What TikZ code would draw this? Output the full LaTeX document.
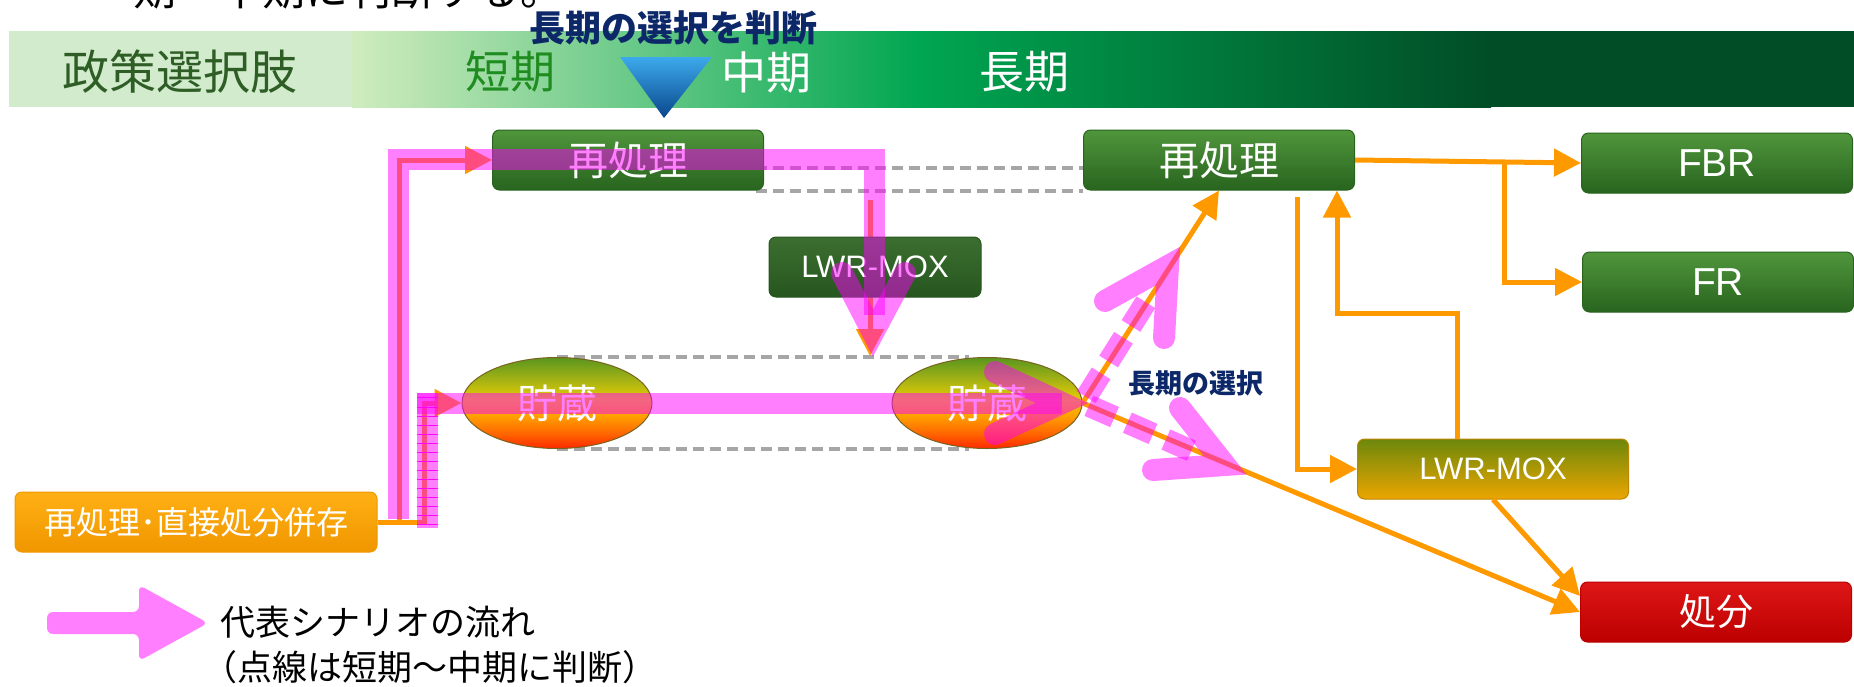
\documentclass[tikz,border=0pt]{standalone}
\usepackage{fontspec}
\newfontfamily\jpfont{Noto Sans CJK JP}
\newfontfamily\latinfont{Liberation Sans}
\usepackage{tikz}
\usetikzlibrary{shapes.geometric, arrows.meta, positioning, calc, patterns.meta}
\definecolor{bandlight}{RGB}{210,235,204}
\definecolor{bandpale}{RGB}{208,236,190}
\definecolor{bandmid}{RGB}{0,166,81}
\definecolor{banddark}{RGB}{1,77,38}
\definecolor{titlegreen}{RGB}{46,94,37}
\definecolor{shortgreen}{RGB}{30,140,30}
\definecolor{navy}{RGB}{12,40,104}
\definecolor{tritop}{RGB}{60,170,235}
\definecolor{tribot}{RGB}{10,70,140}
\definecolor{boxtop}{RGB}{80,150,60}
\definecolor{boxbot}{RGB}{40,100,30}
\definecolor{darktop}{RGB}{60,110,48}
\definecolor{darkbot}{RGB}{38,86,30}
\definecolor{moxtop}{RGB}{108,136,12}
\definecolor{moxbot}{RGB}{236,166,0}
\definecolor{combotop}{RGB}{255,176,20}
\definecolor{combobot}{RGB}{240,150,0}
\definecolor{redtop}{RGB}{222,22,22}
\definecolor{redbot}{RGB}{188,0,0}
\definecolor{potred}{RGB}{255,40,0}
\definecolor{potorange}{RGB}{255,100,0}
\definecolor{potamber}{RGB}{255,160,0}
\definecolor{potyellow}{RGB}{230,205,0}
\definecolor{potolive}{RGB}{170,180,20}
\definecolor{potgreen}{RGB}{90,150,30}
\definecolor{potedge}{RGB}{120,100,30}
\definecolor{flowc}{RGB}{255,153,0}
\definecolor{guidegray}{RGB}{166,166,166}
\definecolor{pinkc}{RGB}{255,0,255}
\pgfdeclareverticalshading{potshade}{100bp}{color(0bp)=(potred); color(25bp)=(potred); color(33bp)=(potorange); color(43bp)=(potamber); color(52bp)=(potyellow); color(62bp)=(potolive); color(75bp)=(potgreen); color(100bp)=(potgreen)}
\pgfdeclarelayer{bg}
\pgfsetlayers{bg,main}
\tikzset{
  boxbase/.style={rounded corners=7pt, minimum width=271pt, minimum height=60pt, inner sep=0, text=white, line width=1pt, font=\jpfont\fontsize{40pt}{48pt}\selectfont},
  greenbox/.style={boxbase, top color=boxtop, bottom color=boxbot, draw=boxbot},
  latin/.style={font=\latinfont\fontsize{39pt}{46pt}\selectfont},
  darkbox/.style={boxbase, minimum width=212pt, top color=darktop, bottom color=darkbot, draw=darkbot, font=\latinfont\fontsize{31pt}{36pt}\selectfont},
  moxbox/.style={boxbase, top color=moxtop, bottom color=moxbot, draw=moxbot!80!black, font=\latinfont\fontsize{31pt}{36pt}\selectfont},
  combobox/.style={boxbase, minimum width=362pt, top color=combotop, bottom color=combobot, draw=combobot, font=\jpfont\fontsize{32pt}{38pt}\selectfont},
  redbox/.style={boxbase, top color=redtop, bottom color=redbot, draw=redbot, font=\jpfont\fontsize{37pt}{44pt}\selectfont},
  pot/.style={ellipse, minimum width=190pt, minimum height=91pt, inner sep=0, shading=potshade, draw=potedge, line width=1pt, text=white, font=\jpfont\fontsize{40pt}{48pt}\selectfont},
  headtext/.style={inner sep=0, text=white, font=\jpfont\fontsize{45pt}{54pt}\selectfont},
  decide/.style={inner sep=0, text=navy, font=\jpfont\bfseries\fontsize{36pt}{42pt}\selectfont},
  legendtext/.style={anchor=west, inner sep=0, text=black, font=\jpfont\fontsize{35pt}{42pt}\selectfont},
  flow/.style={draw=flowc, line width=5pt, -{Triangle[length=27pt,width=27pt]}},
  guide/.style={draw=guidegray, line width=4pt, dash pattern=on 11pt off 6pt},
  pinkband/.style={draw=pinkc, draw opacity=0.5, line width=21pt},
  pinkhead/.style={draw=pinkc, draw opacity=0.5, line width=22pt, line cap=round, line join=miter},
  pinkdash/.style={draw=pinkc, draw opacity=0.5, line width=22pt, dash pattern=on 28pt off 14pt, dash phase=35pt},
  pinkfill/.style={fill=pinkc, fill opacity=0.5}
}

\begin{document}
\begin{tikzpicture}[x=1pt, y=-1pt]
  \useasboundingbox (0,0) rectangle (1854,686);

  % line of text cut off by the top edge
  \node[anchor=base west, inner sep=0, font=\jpfont\fontsize{43pt}{50pt}\selectfont] (cuthead) at (133,5) {期～中期に判断する。};

  % time band
  \fill[bandlight] (9,31) rectangle (352,107);
  \shade[left color=bandpale, right color=bandmid] (352,31) rectangle (921,107);
  \shade[left color=bandmid, right color=banddark] (920,31) rectangle (1491,107);
  \fill[banddark] (1490,31) rectangle (1854,107);
  \node[headtext, text=titlegreen, font=\jpfont\fontsize{47pt}{56pt}\selectfont] (policy) at (180,72) {政策選択肢};
  \node[headtext, text=shortgreen] (shortterm) at (510,72) {短期};
  \node[headtext] (midterm) at (766,72) {中期};
  \node[headtext] (longterm) at (1024,72) {長期};
  \shade[top color=tritop, bottom color=tribot] (620,57) -- (712,57) -- (664,118) -- cycle;
  \node[decide] (judge) at (673,28) {長期の選択を判断};

  % options
  \coordinate (dropTop) at (870,200);
  \coordinate (dropEnd) at (870,356);
  \node[greenbox] (repL) at (628,160) {再処理};
  \node[darkbox] (moxM) at (875,267) {LWR-MOX};
  \node[pot] (stoL) at (557,403) {貯蔵};
  \node[pot] (stoR) at (987,403) {貯蔵};
  \node[combobox] (combo) at (196,522) {再処理･直接処分併存};
  \node[greenbox] (repR) at (1219,160) {再処理};
  \node[greenbox, latin] (fbr) at (1717,163) {FBR};
  \node[greenbox, latin] (fr) at (1718,282) {FR};
  \node[moxbox] (moxR) at (1493,469) {LWR-MOX};
  \node[redbox] (disp) at (1716,612) {処分};

  \begin{pgfonlayer}{bg}
    \draw[guide] ($(repL.east)+(-8,8)$) -- ($(repR.west)+(0,8)$);
    \draw[guide] ($(repL.south east)+(-8,0)$) -- (repR.south west);
    \draw[guide] (stoL.north) -- ($(stoR.north)+(-18,0)$);
    \draw[guide] (stoL.south) -- ($(stoR.south)+(-18,0)$);
    \draw[flow] (dropTop) -- (dropEnd);
  \end{pgfonlayer}

  % flows
  \draw[flow] (combo.east) -- ++(22,0) |- (repL.west);
  \draw[flow] (combo.east) -- ++(47,0) |- (stoL.west);
  \draw[flow] (stoR.east) -- (repR.south);
  \draw[flow] (stoR.east) -- (disp.west);
  \draw[flow] (repR.east) -- (fbr.west);
  \draw[flow] ($(repR.east)!0.66!(fbr.west)$) |- (fr.west);
  \draw[flow] ($(repR.south east)+(-58,6)$) |- (moxR.west);
  \draw[flow] ($(moxR.north west)+(100,0)$) -- ++(0,-125) -| ($(repR.south east)+(-18,0)$);
  \draw[flow] (moxR.south) -- ($(disp.west)+(0,-16)$);

  % representative scenario
  \draw[pinkband] (398,519) -- (398,159) -- (874,159) -- (874,315);
  \draw[pinkhead] (842,273) -- (873,333) -- (905,273);
  \fill[pinkfill, postaction={pattern={Lines[angle=0,distance=9pt,line width=1pt]}, pattern color=pinkc}] (417,393) rectangle (438,528);
  \draw[pinkband] (417,403) -- (1062,403);
  \draw[pinkhead] (995,372) -- (1062,403) -- (995,434);
  \draw[pinkdash] (stoR.east) -- (1146,302);
  \draw[pinkhead] (1105,301) -- (1168,266) -- (1164,338);
  \draw[pinkdash] (stoR.east) -- (1192,451);
  \draw[pinkhead] (1180,408) -- (1225,465) -- (1153,470);
  \node[decide, font=\jpfont\bfseries\fontsize{27pt}{32pt}\selectfont] (choice) at (1196,383) {長期の選択};

  % legend
  \fill[pinkfill, rounded corners=6pt] (47,612) -- (139,612) -- (139,585) -- (208,623) -- (139,661) -- (139,634) -- (47,634) -- cycle;
  \node[legendtext] (legendA) at (220,622) {代表シナリオの流れ};
  \node[legendtext] (legendB) at (202,667) {（点線は短期～中期に判断）};
\end{tikzpicture}
\end{document}
